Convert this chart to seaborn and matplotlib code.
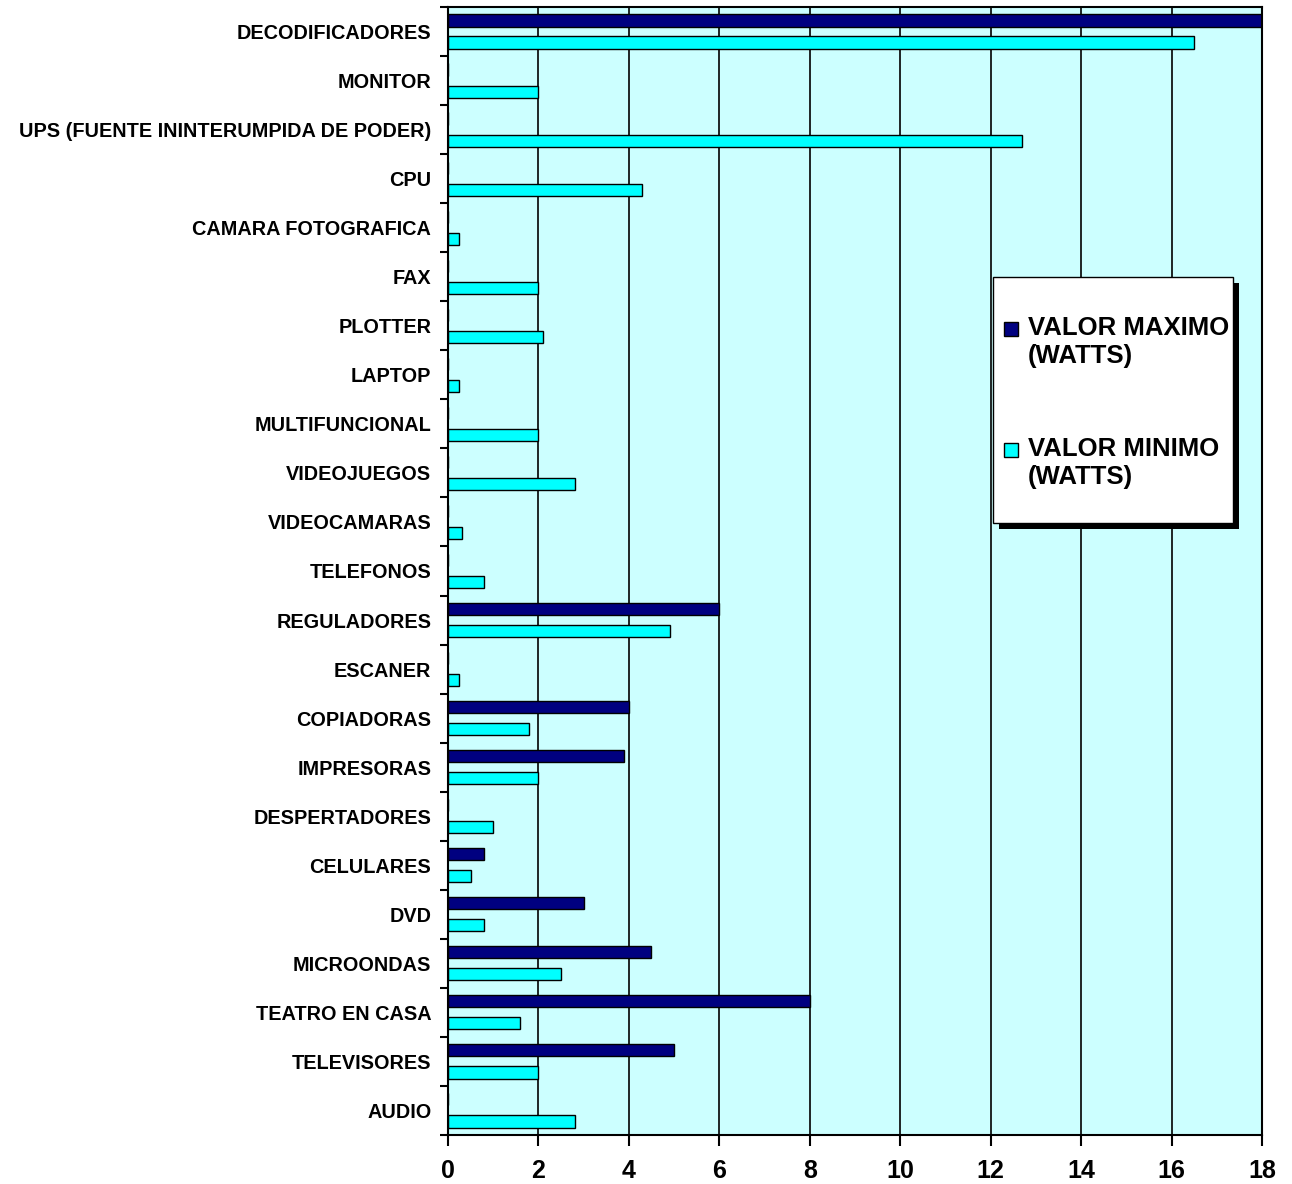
import matplotlib
matplotlib.use("Agg")
import numpy as np
import pandas as pd
import seaborn as sns
import matplotlib.pyplot as plt
from matplotlib.patches import Rectangle, Patch

# ---------------- data ----------------
categories = [
    "DECODIFICADORES", "MONITOR", "UPS (FUENTE ININTERUMPIDA DE PODER)", "CPU",
    "CAMARA FOTOGRAFICA", "FAX", "PLOTTER", "LAPTOP", "MULTIFUNCIONAL",
    "VIDEOJUEGOS", "VIDEOCAMARAS", "TELEFONOS", "REGULADORES", "ESCANER",
    "COPIADORAS", "IMPRESORAS", "DESPERTADORES", "CELULARES", "DVD",
    "MICROONDAS", "TEATRO EN CASA", "TELEVISORES", "AUDIO",
]
valor_maximo = [18, 0, 0, 0, 0, 0, 0, 0, 0, 0, 0, 0, 6, 0, 4, 3.9, 0, 0.8, 3, 4.5, 8, 5, 0]
valor_minimo = [16.5, 2, 12.7, 4.3, 0.25, 2, 2.1, 0.25, 2, 2.8, 0.3, 0.8, 4.9, 0.25,
                1.8, 2, 1, 0.5, 0.8, 2.5, 1.6, 2, 2.8]
series_labels = ["VALOR MAXIMO\n(WATTS)", "VALOR MINIMO\n(WATTS)"]
series_colors = ["#000080", "#00FFFF"]
x_ticks = [0, 2, 4, 6, 8, 10, 12, 14, 16, 18]

df = pd.DataFrame({"categoria": categories,
                   series_labels[0]: valor_maximo,
                   series_labels[1]: valor_minimo})
df = df.melt(id_vars="categoria", var_name="serie", value_name="valor")

# ---------------- style ----------------
sns.set_theme(style="white")
plt.rcParams["font.family"] = ["Liberation Sans", "DejaVu Sans"]
plt.rcParams["font.weight"] = "bold"
for k in ["text.color", "xtick.color", "ytick.color", "axes.labelcolor"]:
    plt.rcParams[k] = "black"

fig, ax = plt.subplots(figsize=(12.92, 11.84), dpi=100)
fig.subplots_adjust(left=0.3467, right=0.9768, top=0.9941, bottom=0.0414)
ax.set_facecolor("#CCFFFF")

sns.barplot(data=df, y="categoria", x="valor", hue="serie",
            order=categories, hue_order=series_labels, palette=series_colors,
            orient="h", width=0.9, gap=0.45, saturation=1,
            edgecolor="black", linewidth=1.0, errorbar=None, legend=False, ax=ax)

ax.set_xlim(0, 18)
ax.set_ylim(len(categories) - 0.5, -0.5)
ax.set_xticks(x_ticks)
ax.set_xticklabels([str(t) for t in x_ticks], fontsize=18, fontweight="bold")
ax.set_xlabel("")
ax.set_ylabel("")

ax.xaxis.grid(True, color="black", linewidth=1.2)
ax.yaxis.grid(False)
ax.set_axisbelow(True)

for sp in ax.spines.values():
    sp.set_color("black")
    sp.set_linewidth(1.5)

# y: labels at category centers, tick marks at category boundaries
ax.set_yticks(range(len(categories)))
ax.set_yticklabels(categories, fontsize=14.3, fontweight="bold")
ax.set_yticks(np.arange(-0.5, len(categories), 1.0), minor=True)
ax.tick_params(axis="y", which="major", length=0, pad=12, labelcolor="black")
ax.tick_params(axis="y", which="minor", length=6, width=1.5, color="black", left=True)
ax.tick_params(axis="x", which="major", length=8, width=1.5, color="black",
               bottom=True, pad=9, labelcolor="black")

# legend frame with hard black shadow
box_x0, box_y0, box_w, box_h = 0.6695, 0.5426, 0.2945, 0.2180
ax.add_patch(Rectangle((box_x0 + 0.0074, box_y0 - 0.0053), box_w, box_h,
                       transform=ax.transAxes, facecolor="black", edgecolor="black",
                       linewidth=0, zorder=8, clip_on=False))
ax.add_patch(Rectangle((box_x0, box_y0), box_w, box_h,
                       transform=ax.transAxes, facecolor="white", edgecolor="black",
                       linewidth=1.0, zorder=9, clip_on=False))


class SquareHandler:
    def legend_artist(self, legend, orig_handle, fontsize, handlebox):
        x0, y0 = handlebox.xdescent, handlebox.ydescent
        w, h = handlebox.width, handlebox.height
        s = 10.0
        cy = h / 2 + 0.6 * fontsize
        r = Rectangle((-x0 + (w - s) / 2, -y0 + cy - s / 2), s, s,
                      facecolor=orig_handle.get_facecolor(), edgecolor="black",
                      linewidth=1.0, transform=handlebox.get_transform())
        handlebox.add_artist(r)
        return r


handles = [Patch(facecolor=c, label=l) for c, l in zip(series_colors, series_labels)]
leg = ax.legend(handles=handles, labels=series_labels,
                handler_map={Patch: SquareHandler()},
                loc="upper left", bbox_to_anchor=(box_x0, 0.7429),
                prop={"family": ["Liberation Sans", "DejaVu Sans"], "weight": "bold", "size": 18.5},
                handlelength=0.6, handletextpad=0.35, borderpad=0.4,
                handleheight=4.1, labelspacing=1.8, borderaxespad=0,
                frameon=False)
leg.set_zorder(10)

fig.savefig("out.png", dpi=100)
